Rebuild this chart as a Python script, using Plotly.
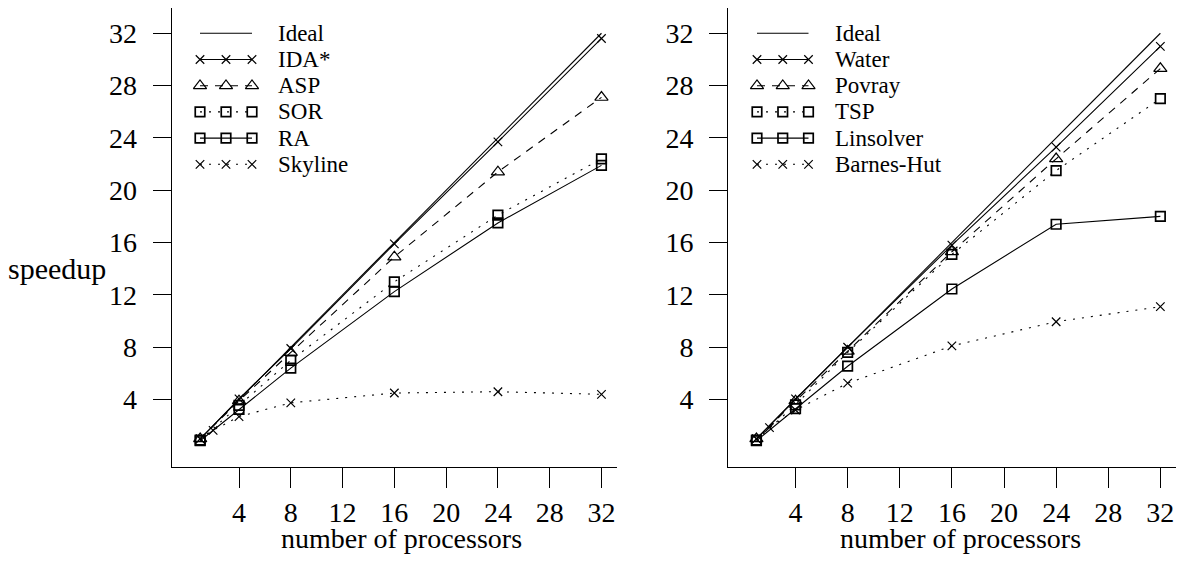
import plotly.graph_objects as go

W, H = 1184, 563          # browser window
OFF = 8                   # default body margin of the html page
FW, FH = W - 2 * OFF, H - 2 * OFF
FONT = "Liberation Serif, Times New Roman, serif"

# ---------------- data ----------------
procs = [1, 4, 8, 16, 24, 32]
procs_fine = [1, 2, 4, 8, 16, 24, 32]
ideal_x = [1, 32]
ideal_y = [1, 32]

# left panel
ida_star = [1.0, 4.05, 7.9, 15.9, 23.7, 31.6]
asp = [1.0, 3.9, 7.6, 14.9, 21.4, 27.1]
sor = [0.9, 3.55, 7.0, 13.0, 18.1, 22.4]
ra = [0.85, 3.25, 6.4, 12.25, 17.5, 21.9]
skyline = [1.0, 1.65, 2.7, 3.75, 4.5, 4.6, 4.4]

# right panel
water = [1.0, 4.05, 8.0, 15.8, 23.3, 31.0]
povray = [1.0, 3.9, 7.7, 15.3, 22.4, 29.3]
tsp = [0.9, 3.6, 7.6, 15.1, 21.5, 27.0]
linsolver = [0.85, 3.3, 6.55, 12.45, 17.4, 18.0]
barnes_hut = [1.0, 1.85, 3.2, 5.25, 8.1, 9.95, 11.1]

tick_vals = [4, 8, 12, 16, 20, 24, 28, 32]
x_title = "number of processors"
y_title = "speedup"

# ---------------- styles ----------------
STY = {
    "ideal": dict(dash="solid", symbol=None),
    "solid_x": dict(dash="solid", symbol="x-thin-open", size=8.5, mlw=1.2),
    "dash_tri": dict(dash="8px,7px", symbol="triangle-up-open", size=11.5, mlw=1.2),
    "dot_sq": dict(dash="2px,7px", symbol="square-open", size=9.5, mlw=1.7),
    "solid_sq": dict(dash="solid", symbol="square-open", size=9.5, mlw=1.7),
    "dot_x": dict(dash="2px,7px", symbol="x-thin-open", size=8.5, mlw=1.2),
}

left_series = [
    ("Ideal", ideal_x, ideal_y, "ideal"),
    ("IDA*", procs, ida_star, "solid_x"),
    ("ASP", procs, asp, "dash_tri"),
    ("SOR", procs, sor, "dot_sq"),
    ("RA", procs, ra, "solid_sq"),
    ("Skyline", procs_fine, skyline, "dot_x"),
]
right_series = [
    ("Ideal", ideal_x, ideal_y, "ideal"),
    ("Water", procs, water, "solid_x"),
    ("Povray", procs, povray, "dash_tri"),
    ("TSP", procs, tsp, "dot_sq"),
    ("Linsolver", procs, linsolver, "solid_sq"),
    ("Barnes-Hut", procs_fine, barnes_hut, "dot_x"),
]

LINE_W = 1.1


def make_trace(x, y, key, xa, ya, name):
    s = STY[key]
    kw = dict(x=x, y=y, xaxis=xa, yaxis=ya, name=name, showlegend=False,
              line=dict(color="black", width=LINE_W, dash=s["dash"]),
              cliponaxis=False, hoverinfo="skip")
    if s["symbol"] is None:
        kw["mode"] = "lines"
    else:
        kw["mode"] = "lines+markers"
        kw["marker"] = dict(symbol=s["symbol"], size=s["size"], color="black",
                            line=dict(color="black", width=s["mlw"]))
    return go.Scatter(**kw)


fig = go.Figure()
for name, x, y, key in left_series:
    fig.add_trace(make_trace(x, y, key, "x", "y", name))
for name, x, y, key in right_series:
    fig.add_trace(make_trace(x, y, key, "x2", "y2", name))

# ---------------- layout (window pixel based) ----------------
def px_x(p):
    return (p - OFF) / FW


def px_y(p):
    return 1 - (p - OFF) / FH


L_DOM = [px_x(171.7), px_x(617)]
R_DOM = [px_x(728.3), px_x(1176)]
Y_DOM = [px_y(466.8), px_y(OFF)]

tickfont = dict(family=FONT, size=28, color="black")

xcommon = dict(tickmode="array", tickvals=tick_vals, ticks="outside", ticklen=20,
               tickwidth=1.1, tickcolor="black", showline=True, linecolor="black",
               linewidth=1.2, showgrid=False, zeroline=False, tickfont=tickfont)
ycommon = dict(tickmode="array", tickvals=tick_vals, ticks="outside", ticklen=18,
               tickwidth=1.1, tickcolor="black", showline=True, linecolor="black",
               linewidth=1.2, showgrid=False, zeroline=False, tickfont=tickfont,
               range=[-1.14, (451.8 - OFF) / 13.08], domain=Y_DOM,
               ticklabelstandoff=10)

fig.update_layout(
    width=FW, height=FH,
    margin=dict(l=0, r=0, t=0, b=0),
    paper_bgcolor="white", plot_bgcolor="rgba(0,0,0,0)",
    showlegend=False,
    xaxis=dict(xcommon, domain=L_DOM, range=[-1.2, 33.2], anchor="y"),
    yaxis=dict(ycommon, anchor="x"),
    xaxis2=dict(xcommon, domain=R_DOM, range=[-1.16, 33.2], anchor="y2"),
    yaxis2=dict(ycommon, anchor="x2"),
    # overlay axes used for the hand-drawn legends (window pixel units)
    xaxis3=dict(domain=[0, 1], range=[OFF, OFF + FW], visible=False, anchor="y3",
                fixedrange=True),
    yaxis3=dict(domain=[0, 1], range=[OFF + FH, OFF], visible=False, anchor="x3",
                fixedrange=True),
)

# ---------------- legends ----------------
LEG_ROW0 = 33.3
LEG_DY = 26.2
legend_boxes = [
    (left_series, 200.0, 252.0, 278.0),
    (right_series, 757.0, 808.5, 835.0),
]
annotations = []
for series, x0, x1, tx in legend_boxes:
    for i, (name, _, _, key) in enumerate(series):
        yy = LEG_ROW0 + i * LEG_DY
        s = STY[key]
        if s["symbol"] is None:
            lx, ly = [x0, x1], [yy, yy]
        else:
            lx, ly = [x0, (x0 + x1) / 2, x1], [yy, yy, yy]
        fig.add_trace(make_trace(lx, ly, key, "x3", "y3", name + " legend"))
        annotations.append(dict(x=tx - 2, y=yy, xref="x3", yref="y3", text=name,
                                showarrow=False, xanchor="left", yanchor="middle",
                                font=dict(family=FONT, size=23, color="black")))

# ---------------- axis titles ----------------
title_font = dict(family=FONT, size=28, color="black")
for cx in (401, 960):
    annotations.append(dict(x=px_x(cx), y=px_y(538), xref="paper", yref="paper",
                            text=x_title, showarrow=False, xanchor="center",
                            yanchor="middle", font=title_font))
annotations.append(dict(x=px_x(57), y=px_y(268), xref="paper", yref="paper",
                        text=y_title, showarrow=False, xanchor="center",
                        yanchor="middle", font=dict(family=FONT, size=30, color="black")))
fig.update_layout(annotations=annotations)

fig.write_html("out.html")
